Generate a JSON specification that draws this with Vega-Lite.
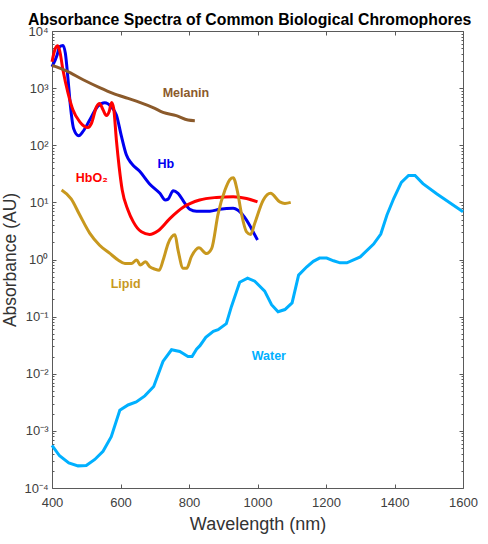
{"$schema":"https://vega.github.io/schema/vega-lite/v6.json","width":411,"height":457,"autosize":"none","padding":{"left":52,"top":31,"right":25,"bottom":56},"background":"white","view":{"stroke":null},
"title":{"text":"Absorbance Spectra of Common Biological Chromophores","font":"Liberation Sans","fontSize":15.8,"fontWeight":"bold","color":"#000000","anchor":"start","frame":"group","dx":-24,"offset":-4},
"config":{"font":"Liberation Sans"},
"datasets":{"spectra":[
{"s":"Hb","w":400,"a":2370},{"s":"Hb","w":415,"a":3800},{"s":"Hb","w":422,"a":5300},{"s":"Hb","w":432,"a":5600},{"s":"Hb","w":439,"a":4070},{"s":"Hb","w":447,"a":1380},{"s":"Hb","w":454,"a":473},{"s":"Hb","w":463,"a":197},{"s":"Hb","w":478,"a":147},{"s":"Hb","w":490,"a":173},{"s":"Hb","w":510,"a":276},{"s":"Hb","w":534,"a":485},{"s":"Hb","w":554,"a":556},{"s":"Hb","w":573,"a":473},{"s":"Hb","w":588,"a":339},{"s":"Hb","w":603,"a":141},{"s":"Hb","w":617,"a":68},{"s":"Hb","w":632,"a":48},{"s":"Hb","w":656,"a":35},{"s":"Hb","w":685,"a":21},{"s":"Hb","w":715,"a":14.4},{"s":"Hb","w":731,"a":11},{"s":"Hb","w":739,"a":11.4},{"s":"Hb","w":754,"a":16},{"s":"Hb","w":768,"a":14.4},{"s":"Hb","w":788,"a":9.6},{"s":"Hb","w":802,"a":7.6},{"s":"Hb","w":822,"a":7},{"s":"Hb","w":861,"a":7},{"s":"Hb","w":890,"a":7.6},{"s":"Hb","w":929,"a":7.9},{"s":"Hb","w":943,"a":7.3},{"s":"Hb","w":968,"a":4.9},{"s":"Hb","w":982,"a":3.5},{"s":"Hb","w":1000,"a":2.2},
{"s":"HbO2","w":400,"a":2900},{"s":"HbO2","w":410,"a":5000},{"s":"HbO2","w":416,"a":5500},{"s":"HbO2","w":422,"a":4640},{"s":"HbO2","w":432,"a":2080},{"s":"HbO2","w":447,"a":810},{"s":"HbO2","w":461,"a":417},{"s":"HbO2","w":481,"a":257},{"s":"HbO2","w":505,"a":204},{"s":"HbO2","w":515,"a":240},{"s":"HbO2","w":530,"a":473},{"s":"HbO2","w":539,"a":540},{"s":"HbO2","w":549,"a":417},{"s":"HbO2","w":559,"a":331},{"s":"HbO2","w":567,"a":390},{"s":"HbO2","w":574,"a":563},{"s":"HbO2","w":580,"a":445},{"s":"HbO2","w":588,"a":123},{"s":"HbO2","w":596,"a":42},{"s":"HbO2","w":605,"a":16.4},{"s":"HbO2","w":622,"a":7.3},{"s":"HbO2","w":637,"a":4.6},{"s":"HbO2","w":661,"a":3.05},{"s":"HbO2","w":685,"a":2.75},{"s":"HbO2","w":710,"a":3.2},{"s":"HbO2","w":744,"a":5.2},{"s":"HbO2","w":783,"a":8.2},{"s":"HbO2","w":831,"a":11},{"s":"HbO2","w":880,"a":12.2},{"s":"HbO2","w":929,"a":12.6},{"s":"HbO2","w":968,"a":11.7},{"s":"HbO2","w":1000,"a":10.2},
{"s":"Melanin","w":400,"a":2500},{"s":"Melanin","w":442,"a":2000},{"s":"Melanin","w":491,"a":1400},{"s":"Melanin","w":539,"a":1020},{"s":"Melanin","w":578,"a":810},{"s":"Melanin","w":622,"a":660},{"s":"Melanin","w":656,"a":563},{"s":"Melanin","w":695,"a":457},{"s":"Melanin","w":724,"a":376},{"s":"Melanin","w":763,"a":331},{"s":"Melanin","w":797,"a":276},{"s":"Melanin","w":817,"a":269},
{"s":"Lipid","w":428,"a":16.4},{"s":"Lipid","w":456,"a":11.5},{"s":"Lipid","w":481,"a":6},{"s":"Lipid","w":510,"a":2.9},{"s":"Lipid","w":539,"a":1.78},{"s":"Lipid","w":569,"a":1.28},{"s":"Lipid","w":593,"a":0.98},{"s":"Lipid","w":613,"a":0.85},{"s":"Lipid","w":632,"a":0.85},{"s":"Lipid","w":647,"a":0.98},{"s":"Lipid","w":658,"a":0.8},{"s":"Lipid","w":673,"a":0.91},{"s":"Lipid","w":685,"a":0.75},{"s":"Lipid","w":700,"a":0.68},{"s":"Lipid","w":713,"a":0.65},{"s":"Lipid","w":725,"a":1.0},{"s":"Lipid","w":739,"a":1.9},{"s":"Lipid","w":759,"a":2.7},{"s":"Lipid","w":768,"a":1.46},{"s":"Lipid","w":783,"a":0.7},{"s":"Lipid","w":793,"a":0.7},{"s":"Lipid","w":807,"a":1.12},{"s":"Lipid","w":829,"a":1.6},{"s":"Lipid","w":851,"a":1.27},{"s":"Lipid","w":866,"a":1.55},{"s":"Lipid","w":885,"a":6.3},{"s":"Lipid","w":905,"a":16.4},{"s":"Lipid","w":919,"a":25},{"s":"Lipid","w":929,"a":27},{"s":"Lipid","w":941,"a":16},{"s":"Lipid","w":953,"a":6.4},{"s":"Lipid","w":968,"a":3.05},{"s":"Lipid","w":980,"a":2.75},{"s":"Lipid","w":992,"a":4.3},{"s":"Lipid","w":1017,"a":11},{"s":"Lipid","w":1038,"a":14.4},{"s":"Lipid","w":1065,"a":10.2},{"s":"Lipid","w":1080,"a":9.6},{"s":"Lipid","w":1097,"a":10},
{"s":"Water","w":400,"a":0.00056},{"s":"Water","w":422,"a":0.000366},{"s":"Water","w":449,"a":0.000275},{"s":"Water","w":476,"a":0.000244},{"s":"Water","w":500,"a":0.000247},{"s":"Water","w":525,"a":0.000316},{"s":"Water","w":549,"a":0.00044},{"s":"Water","w":573,"a":0.00079},{"s":"Water","w":598,"a":0.0023},{"s":"Water","w":622,"a":0.00284},{"s":"Water","w":646,"a":0.0032},{"s":"Water","w":671,"a":0.0041},{"s":"Water","w":697,"a":0.00597},{"s":"Water","w":724,"a":0.0164},{"s":"Water","w":749,"a":0.0263},{"s":"Water","w":773,"a":0.0245},{"s":"Water","w":797,"a":0.0201},{"s":"Water","w":809,"a":0.0201},{"s":"Water","w":822,"a":0.027},{"s":"Water","w":832,"a":0.031},{"s":"Water","w":849,"a":0.0434},{"s":"Water","w":871,"a":0.0552},{"s":"Water","w":885,"a":0.059},{"s":"Water","w":909,"a":0.0753},{"s":"Water","w":924,"a":0.151},{"s":"Water","w":948,"a":0.4},{"s":"Water","w":971,"a":0.472},{"s":"Water","w":992,"a":0.417},{"s":"Water","w":1021,"a":0.279},{"s":"Water","w":1041,"a":0.162},{"s":"Water","w":1060,"a":0.122},{"s":"Water","w":1080,"a":0.133},{"s":"Water","w":1101,"a":0.174},{"s":"Water","w":1120,"a":0.533},{"s":"Water","w":1144,"a":0.745},{"s":"Water","w":1163,"a":0.93},{"s":"Water","w":1181,"a":1.06},{"s":"Water","w":1202,"a":1.06},{"s":"Water","w":1222,"a":0.95},{"s":"Water","w":1241,"a":0.875},{"s":"Water","w":1261,"a":0.875},{"s":"Water","w":1300,"a":1.11},{"s":"Water","w":1339,"a":1.86},{"s":"Water","w":1360,"a":2.79},{"s":"Water","w":1378,"a":6},{"s":"Water","w":1398,"a":11.8},{"s":"Water","w":1420,"a":22.4},{"s":"Water","w":1441,"a":29.6},{"s":"Water","w":1460,"a":29.6},{"s":"Water","w":1483,"a":21.3},{"s":"Water","w":1524,"a":14},{"s":"Water","w":1600,"a":6.84}],
"labels":[{"s":"Melanin","t":"Melanin","w":791,"a":820},{"s":"Hb","t":"Hb","w":732,"a":47},{"s":"HbO2","t":"HbO₂","w":516,"a":27},{"s":"Lipid","t":"Lipid","w":615,"a":0.37},{"s":"Water","t":"Water","w":1033,"a":0.0204}]},
"layer":[
{"data":{"name":"spectra"},"mark":{"type":"line","opacity":0},
"encoding":{"detail":{"field":"s"},
"x":{"field":"w","type":"quantitative","scale":{"domain":[400,1600],"nice":false},"axis":{"orient":"top","values":[400,600,800,1000,1200,1400,1600],"labels":false,"title":null,"grid":false,"tickSize":-4,"tickColor":"#5a5a5a","domainColor":"#5a5a5a"}},
"y":{"field":"a","type":"quantitative","scale":{"type":"log","domain":[0.0001,10000],"nice":false},"axis":{"orient":"right","values":[0.0001,0.001,0.01,0.1,1,10,100,1000,10000],"labels":false,"title":null,"grid":false,"tickSize":-4,"tickColor":"#5a5a5a","domainColor":"#5a5a5a"}}}},
{"data":{"name":"spectra"},"mark":{"type":"line","opacity":0},
"encoding":{"detail":{"field":"s"},
"x":{"field":"w","type":"quantitative","axis":null},
"y":{"field":"a","type":"quantitative","axis":{"orient":"right","values":[0.0002,0.0003,0.0004,0.0005,0.0006,0.0007,0.0008,0.0009,0.002,0.003,0.004,0.005,0.006,0.007,0.008,0.009,0.02,0.03,0.04,0.05,0.06,0.07,0.08,0.09,0.2,0.3,0.4,0.5,0.6,0.7,0.8,0.9,2,3,4,5,6,7,8,9,20,30,40,50,60,70,80,90,200,300,400,500,600,700,800,900,2000,3000,4000,5000,6000,7000,8000,9000],"labels":false,"title":null,"grid":false,"domain":false,"tickSize":-2,"tickColor":"#5a5a5a"}}}},
{"data":{"name":"spectra"},"mark":{"type":"line","opacity":0},
"encoding":{"detail":{"field":"s"},
"x":{"field":"w","type":"quantitative","axis":null},
"y":{"field":"a","type":"quantitative","axis":{"orient":"left","values":[0.0002,0.0003,0.0004,0.0005,0.0006,0.0007,0.0008,0.0009,0.002,0.003,0.004,0.005,0.006,0.007,0.008,0.009,0.02,0.03,0.04,0.05,0.06,0.07,0.08,0.09,0.2,0.3,0.4,0.5,0.6,0.7,0.8,0.9,2,3,4,5,6,7,8,9,20,30,40,50,60,70,80,90,200,300,400,500,600,700,800,900,2000,3000,4000,5000,6000,7000,8000,9000],"labels":false,"title":null,"grid":false,"domain":false,"tickSize":-2,"tickColor":"#5a5a5a"}}}},
{"data":{"name":"spectra"},"transform":[{"filter":"datum.s==='Water'"}],"mark":{"type":"line","strokeWidth":3,"interpolate":"linear"},
"encoding":{"x":{"field":"w","type":"quantitative","axis":null},"y":{"field":"a","type":"quantitative","axis":null},
"color":{"field":"s","type":"nominal","legend":null}}},
{"data":{"name":"spectra"},"transform":[{"filter":"datum.s!=='Water'"}],"mark":{"type":"line","strokeWidth":3,"interpolate":"monotone"},
"encoding":{"detail":{"field":"s"},
"x":{"field":"w","type":"quantitative","axis":{"orient":"bottom","values":[400,600,800,1000,1200,1400,1600],"format":"d","labelFlush":false,"title":"Wavelength (nm)","titleFont":"Liberation Sans","titleFontSize":18,"titleFontWeight":"normal","titleColor":"#333333","titlePadding":6,"labelFont":"Liberation Sans","labelFontSize":13,"labelColor":"#404040","labelPadding":12,"grid":false,"tickSize":-4,"tickColor":"#5a5a5a","domainColor":"#5a5a5a"}},
"y":{"field":"a","type":"quantitative","axis":{"orient":"left","values":[0.0001,0.001,0.01,0.1,1,10,100,1000,10000],"labelFlush":false,"labelExpr":"datum.value>=9999?'10⁴':datum.value>=999?'10³':datum.value>=99?'10²':datum.value>=9?'10¹':datum.value>=0.9?'10⁰':datum.value>=0.09?'10⁻¹':datum.value>=0.009?'10⁻²':datum.value>=0.0009?'10⁻³':'10⁻⁴'","title":"Absorbance (AU)","titleFont":"Liberation Sans","titleFontSize":17.5,"titleFontWeight":"normal","titleColor":"#333333","titlePadding":4,"labelFont":"Liberation Sans","labelFontSize":13,"labelColor":"#404040","labelPadding":8,"grid":false,"tickSize":-4,"tickColor":"#5a5a5a","domainColor":"#5a5a5a"}},
"color":{"field":"s","type":"nominal","legend":null,"scale":{"domain":["Hb","HbO2","Melanin","Lipid","Water"],"range":["#0000F0","#FF0000","#8B5A2B","#C8981E","#00B0FF"]}}}},
{"data":{"name":"labels"},"mark":{"type":"text","font":"Liberation Sans","fontSize":12.5,"fontWeight":"bold","align":"center","baseline":"middle"},
"encoding":{"x":{"field":"w","type":"quantitative","axis":null},"y":{"field":"a","type":"quantitative","axis":null},"text":{"field":"t"},"color":{"field":"s","type":"nominal","legend":null}}}
],
"resolve":{"axis":{"x":"independent","y":"independent"}}}
